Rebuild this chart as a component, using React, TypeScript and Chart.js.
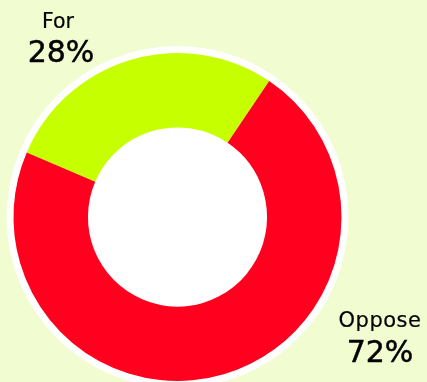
import React, { useEffect, useRef } from "react";
import { Chart, registerables } from "chart.js";

Chart.register(...registerables);

const categories = ["For", "Oppose"];
const shares = [28, 72];
const sliceColors = ["#c6ff00", "#ff001e"];
const valueLabels = ["28%", "72%"];

const PAGE_BG = "#f1fcd0";
const FONT = "'DejaVu Sans', sans-serif";

// Paints a white disc behind the ring: it fills the hole and leaves a white rim outside.
const backdropDisc = {
  id: "backdropDisc",
  beforeDatasetsDraw(chart: any) {
    const arc = chart.getDatasetMeta(0).data[0] as any;
    if (!arc) return;
    const { x, y, outerRadius } = arc.getProps(["x", "y", "outerRadius"], true);
    const ctx = chart.ctx;
    ctx.save();
    ctx.fillStyle = "#ffffff";
    ctx.beginPath();
    ctx.arc(x, y, outerRadius + 7, 0, Math.PI * 2);
    ctx.fill();
    ctx.restore();
  },
};

const textLine = (
  text: string,
  centerX: number,
  top: number,
  size: number,
  extra: React.CSSProperties = {}
) => (
  <div
    style={{
      position: "absolute",
      left: centerX - 80,
      top,
      width: 160,
      textAlign: "center",
      fontFamily: FONT,
      fontSize: size,
      lineHeight: 1,
      color: "#000",
      whiteSpace: "nowrap",
      ...extra,
    }}
  >
    {text}
  </div>
);

export default function App() {
  const canvasRef = useRef<HTMLCanvasElement | null>(null);

  useEffect(() => {
    if (!canvasRef.current) return;
    const chart = new Chart(canvasRef.current, {
      type: "doughnut",
      data: {
        labels: categories,
        datasets: [
          {
            data: shares,
            backgroundColor: sliceColors,
            borderWidth: 0,
          },
        ],
      },
      options: {
        responsive: false,
        animation: false,
        rotation: -66.8,
        radius: 164,
        cutout: "54.6%",
        layout: { padding: { right: 72 } },
        plugins: {
          legend: { display: false },
          tooltip: { enabled: false },
        },
      },
      plugins: [backdropDisc],
    });
    return () => chart.destroy();
  }, []);

  const heavy: React.CSSProperties = { WebkitTextStroke: "0.5px #000" } as React.CSSProperties;

  return (
    <div
      style={{
        position: "fixed",
        left: 0,
        top: 0,
        width: 427,
        height: 382,
        overflow: "hidden",
        background: PAGE_BG,
      }}
    >
      <canvas
        ref={canvasRef}
        width={427}
        height={434}
        style={{ position: "absolute", left: 0, top: 0, width: 427, height: 434 }}
      />
      {textLine(categories[0], 58, 10.5, 20.5, { WebkitTextStroke: "0.2px #000" } as React.CSSProperties)}
      {textLine(valueLabels[0], 61, 36.5, 30, heavy)}
      {textLine(categories[1], 380, 309.5, 21, { letterSpacing: "0.5px", WebkitTextStroke: "0.2px #000" } as React.CSSProperties)}
      {textLine(valueLabels[1], 380, 336.5, 30, heavy)}
    </div>
  );
}
